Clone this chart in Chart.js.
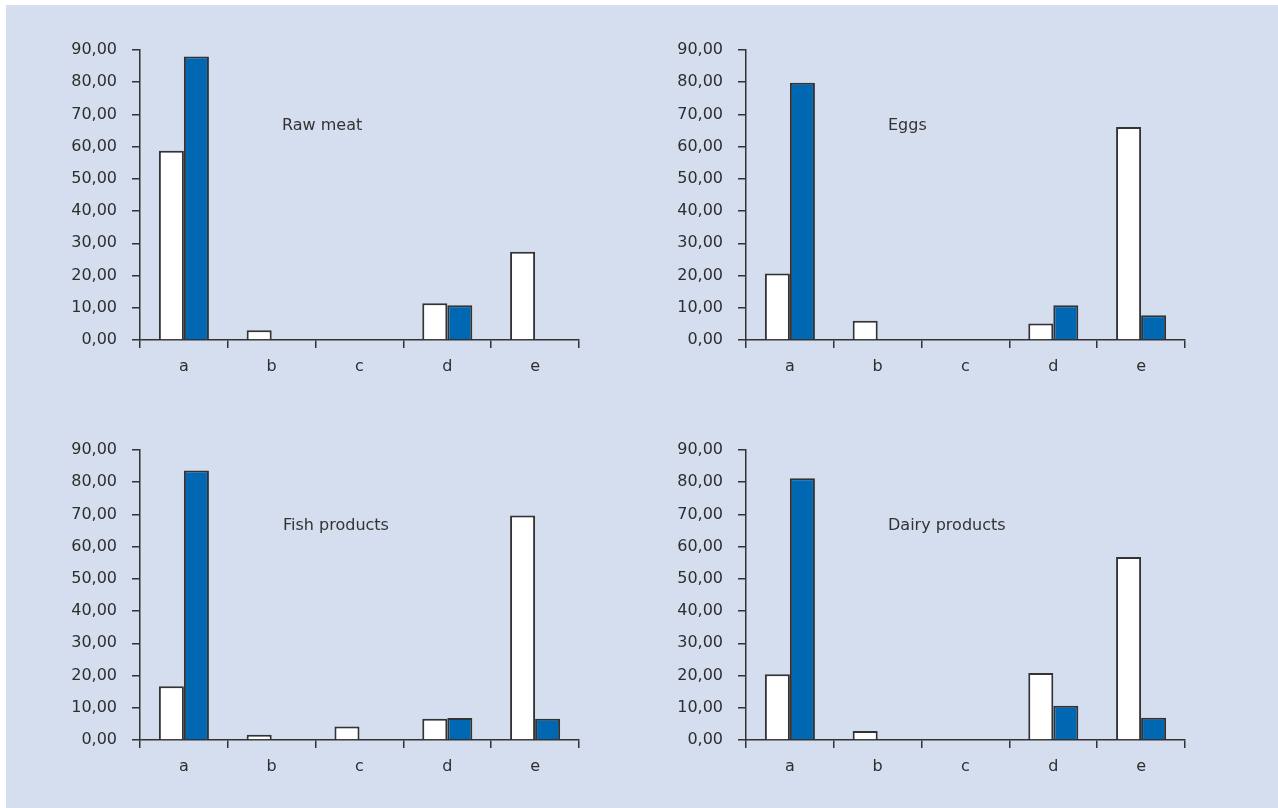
<!DOCTYPE html>
<html>
<head>
<meta charset="utf-8">
<script src="https://cdn.jsdelivr.net/npm/chart.js@4.4.1/dist/chart.umd.min.js"></script>
<style>
    body { margin: 0; background: #ffffff; width: 1278px; height: 808px; overflow: hidden; }
    #panel { position: absolute; left: 6px; top: 5px; right: 0; bottom: 0; background: #d5deef; }
    .box { position: absolute; width: 600px; height: 400px; }
    .label { position: absolute; font-family: 'DejaVu Sans', sans-serif; font-size: 16px; line-height: 18px; color: #333333; white-space: nowrap; }
</style>
</head>
<body>
<div id="panel"></div>
<div class="box" style="left:0px; top:0px;"><canvas id="rawMeatChart"></canvas></div>
<div class="box" style="left:606px; top:0px;"><canvas id="eggsChart"></canvas></div>
<div class="box" style="left:0px; top:400px;"><canvas id="fishChart"></canvas></div>
<div class="box" style="left:606px; top:400px;"><canvas id="dairyChart"></canvas></div>
<div class="label" style="left:282px; top:116px;">Raw meat</div>
<div class="label" style="left:888px; top:116px;">Eggs</div>
<div class="label" style="left:283px; top:516px;">Fish products</div>
<div class="label" style="left:888px; top:516px;">Dairy products</div>
<script>
const categories = ['a', 'b', 'c', 'd', 'e']

const rawMeatWhite = [58.7, 3.0, 0, 11.4, 27.4]
const rawMeatBlue = [88.0, 0, 0, 10.8, 0]

const eggsWhite = [20.6, 6.0, 0, 5.1, 66.1]
const eggsBlue = [79.8, 0, 0, 10.8, 7.7]

const fishWhite = [16.7, 1.6, 4.2, 6.6, 69.7]
const fishBlue = [83.6, 0, 0, 6.8, 6.6]

const dairyWhite = [20.4, 2.8, 0, 20.8, 56.8]
const dairyBlue = [81.2, 0, 0, 10.6, 6.9]

const axisColor = '#333333'
const textColor = '#2e2e2e'

function createChart (elementID, whiteData, blueData) {

    const barStyle = {
        borderColor: axisColor,
        borderWidth: 2,
        borderSkipped: 'start',
        barPercentage: 1.0,
        categoryPercentage: 0.57
    }

    const newChart = new Chart(document.getElementById(elementID), {
        type: 'bar',
        data: {
            labels: categories,
            datasets: [
                Object.assign({ label: 'white', data: whiteData, backgroundColor: '#ffffff' }, barStyle),
                Object.assign({ label: 'blue', data: blueData, backgroundColor: '#0067b3' }, barStyle)
            ]
        },
        options: {
            responsive: false,
            animation: false,
            layout: {
                padding: { top: 50, right: 21, bottom: 0, left: 0 }
            },
            plugins: {
                legend: { display: false },
                tooltip: { enabled: false }
            },
            scales: {
                x: {
                    grid: {
                        drawOnChartArea: false,
                        drawTicks: true,
                        tickLength: 8,
                        offset: true,
                        color: axisColor,
                        lineWidth: 1.5
                    },
                    border: { display: true, color: axisColor, width: 1.5 },
                    ticks: {
                        color: textColor,
                        padding: 9,
                        font: { family: 'DejaVu Sans', size: 16 }
                    },
                    afterFit: function (scale) { scale.height = 60 }
                },
                y: {
                    min: 0,
                    max: 90,
                    grid: {
                        drawOnChartArea: false,
                        drawTicks: true,
                        tickLength: 8,
                        color: axisColor,
                        lineWidth: 1.5
                    },
                    border: { display: true, color: axisColor, width: 1.5 },
                    ticks: {
                        stepSize: 10,
                        color: textColor,
                        padding: 15,
                        font: { family: 'DejaVu Sans', size: 16 },
                        callback: function (value) { return value.toFixed(2).replace('.', ',') }
                    },
                    afterFit: function (scale) { scale.width = 140 }
                }
            }
        }
    });

    return newChart
}

function sizeCanvas (elementID) {
    const canvas = document.getElementById(elementID)
    canvas.width = 600
    canvas.height = 400
}

['rawMeatChart', 'eggsChart', 'fishChart', 'dairyChart'].forEach(sizeCanvas)

const rawMeatChart = createChart('rawMeatChart', rawMeatWhite, rawMeatBlue)
const eggsChart = createChart('eggsChart', eggsWhite, eggsBlue)
const fishChart = createChart('fishChart', fishWhite, fishBlue)
const dairyChart = createChart('dairyChart', dairyWhite, dairyBlue)
</script>
</body>
</html>
